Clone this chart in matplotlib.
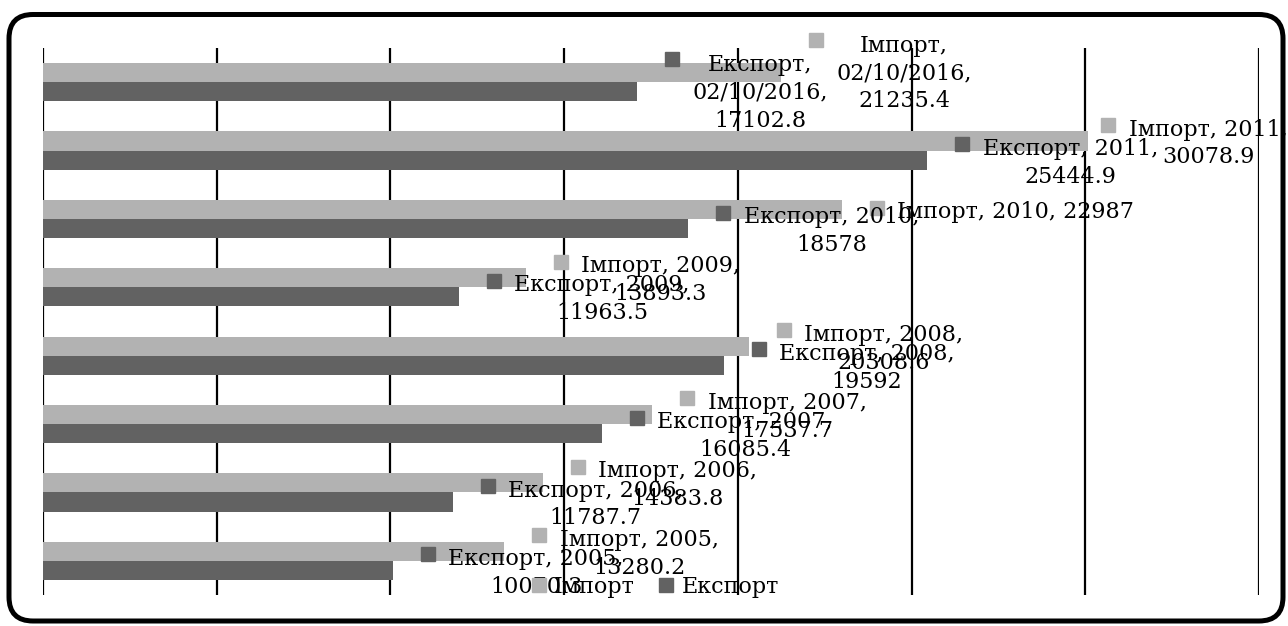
import matplotlib
matplotlib.use("Agg")
import matplotlib.pyplot as plt
from matplotlib import transforms
from matplotlib.lines import Line2D
from matplotlib.patches import FancyBboxPatch

categories = ["2005", "2006", "2007", "2008", "2009", "2010", "2011", "02/10/2016"]
import_vals = [13280.2, 14383.8, 17537.7, 20308.6, 13893.3, 22987, 30078.9, 21235.4]
export_vals = [10070.3, 11787.7, 16085.4, 19592, 11963.5, 18578, 25444.9, 17102.8]
series_names = ["Імпорт", "Експорт"]

# how many lines each data label wraps into
import_lines = [2, 2, 2, 2, 2, 1, 2, 3]
export_lines = [2, 2, 2, 2, 2, 2, 2, 3]
# extra horizontal shift (px) of a label that hits the right edge
import_shift = [0, 0, 0, 0, 0, 0, -15, 0]
export_shift = [0, 0, 0, 0, 0, 0, 0, 0]

IMP_COLOR = "#b2b2b2"
EXP_COLOR = "#626262"
FONT = "DejaVu Serif"
FS = 16


def label_text(name, cat, val, nlines):
    v = "{:g}".format(val)
    if nlines == 1:
        return f"{name}, {cat}, {v}"
    if nlines == 2:
        return f"{name}, {cat},\n{v}"
    return f"{name},\n{cat},\n{v}"


def add_labels(fig, ax, ys, vals, name, color, lines, shifts):
    for y, v, cat, n, sh in zip(ys, vals, categories, lines, shifts):
        block_dy = -1 if n == 3 else -2.5
        sq_dx = 35 + sh
        sq_dy = block_dy + (n - 1) * 15 + 3.5
        tr = transforms.offset_copy(ax.transData, fig=fig, x=sq_dx, y=sq_dy, units="dots")
        ax.plot([v], [y], marker="s", markersize=9.5, color=color, linestyle="",
                transform=tr, zorder=5, clip_on=False)
        ax.annotate(label_text(name, cat, v, n), xy=(v, y), xytext=(sq_dx + 20.5, block_dy),
                    textcoords="offset pixels", ha="left", va="center",
                    multialignment="center", fontsize=FS, family=FONT,
                    linespacing=1.34, zorder=6, annotation_clip=False)


def main():
    fig = plt.figure(figsize=(12.88, 6.26), dpi=100)
    ax = fig.add_axes([43 / 1288, 31 / 626, 1216 / 1288, 547 / 626])

    pos = list(range(len(categories)))
    h = 0.28
    imp_y = [p + h / 2 for p in pos]
    exp_y = [p - h / 2 for p in pos]
    ax.barh(imp_y, import_vals, height=h, color=IMP_COLOR, zorder=2)
    ax.barh(exp_y, export_vals, height=h, color=EXP_COLOR, zorder=2)

    ax.set_xlim(0, 35000)
    ax.set_ylim(-0.5, len(categories) - 0.5)
    ax.set_xticks(range(0, 35001, 5000))
    ax.set_yticks([])
    ax.tick_params(axis="x", length=0, labelbottom=False)
    ax.grid(axis="x", color="black", linewidth=1.6, zorder=1)
    ax.set_axisbelow(True)
    for s in ax.spines.values():
        s.set_visible(False)

    add_labels(fig, ax, imp_y, import_vals, series_names[0], IMP_COLOR, import_lines, import_shift)
    add_labels(fig, ax, exp_y, export_vals, series_names[1], EXP_COLOR, export_lines, export_shift)

    handles = [Line2D([], [], marker="s", linestyle="", markersize=9.5, color=c)
               for c in (IMP_COLOR, EXP_COLOR)]
    fig.legend(handles, series_names, loc="center", bbox_to_anchor=(655.5 / 1288, 39 / 626),
               ncol=2, frameon=False, handlelength=0.6, handletextpad=0.4,
               columnspacing=1.1, borderpad=0, prop={"family": FONT, "size": FS})

    frame = FancyBboxPatch((9, 5), 1274, 606.5, boxstyle="round,pad=0,rounding_size=24",
                           transform=transforms.IdentityTransform(), fill=False,
                           edgecolor="black", linewidth=3.6)
    fig.patches.append(frame)

    fig.savefig("out.png", dpi=100)


if __name__ == "__main__":
    main()
